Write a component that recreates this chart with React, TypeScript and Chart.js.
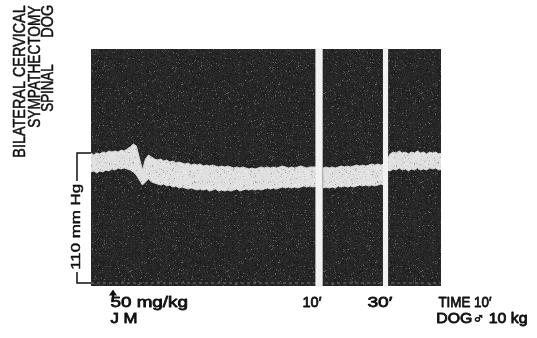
import { useEffect, useRef } from "react";
import { Chart, registerables } from "chart.js";

Chart.register(...registerables);

// Time axis: seconds from the injection; pressure axis: mm Hg.
const SAMPLE_STEP_S = 9;

// Record segment 1 (injection through 10 min)
const seg1Start = -66;
const seg1Systolic = [
  110.0, 108.3, 110.0, 109.2, 110.8, 110.0, 111.7, 110.8, 111.7, 110.8,
  112.5, 111.7, 113.4, 115.1, 117.6, 115.9, 105.8, 95.6, 104.9, 108.3,
  106.6, 104.9, 104.1, 104.9, 103.2, 104.1, 102.4, 103.2, 101.5, 102.4,
  101.5, 100.7, 101.5, 99.8, 100.7, 99.8, 100.7, 99.0, 99.8, 99.0,
  99.8, 99.0, 98.2, 99.0, 98.2, 99.0, 98.2, 97.3, 98.2, 97.3,
  98.2, 97.3, 96.5, 97.3, 96.5, 97.3, 98.2, 97.3, 98.2, 97.3,
  98.2, 97.3, 98.2, 99.0, 98.2, 97.3, 98.2, 97.3, 98.2, 99.0,
  98.2, 97.3, 98.2, 98.2, 98.2,
];
const seg1Diastolic = [
  93.9, 94.8, 93.1, 94.8, 93.9, 95.6, 94.8, 96.5, 95.6, 97.3,
  96.5, 97.3, 96.5, 95.6, 93.9, 91.4, 87.2, 82.9, 85.5, 88.0,
  85.5, 84.6, 83.8, 82.9, 83.8, 82.1, 82.9, 81.2, 82.1, 80.4,
  81.2, 80.4, 79.5, 80.4, 79.5, 78.7, 79.5, 78.7, 79.5, 77.8,
  78.7, 79.5, 77.8, 78.7, 77.8, 78.7, 77.8, 78.7, 79.5, 77.8,
  78.7, 79.5, 78.7, 79.5, 78.7, 79.5, 78.7, 79.5, 80.4, 79.5,
  80.4, 79.5, 80.4, 81.2, 80.4, 81.2, 80.4, 81.2, 80.4, 81.2,
  82.1, 81.2, 82.1, 81.2, 82.1,
];

// Record segment 2 (up to 30 min)
const seg2Start = 621;
const seg2Systolic = [
  97.3, 98.2, 97.3, 98.2, 97.3, 98.2, 99.0, 98.2, 99.0, 98.2,
  99.0, 99.8, 99.0, 99.8, 99.0, 99.8, 100.7, 99.8, 100.7, 99.8, 100.7,
];
const seg2Diastolic = [
  80.4, 81.2, 80.4, 81.2, 80.4, 82.1, 81.2, 82.1, 81.2, 82.1,
  81.2, 82.1, 82.9, 82.1, 82.9, 82.1, 82.9, 82.1, 82.9, 83.8, 82.9,
];

// Record segment 3 (after 30 min)
const seg3Start = 810;
const seg3Systolic = [
  104.1, 109.2, 110.8, 110.0, 111.7, 110.0, 110.8, 109.2, 110.8, 110.0,
  111.7, 110.0, 110.8, 109.2, 110.8, 110.0, 110.8, 109.2, 110.0,
];
const seg3Diastolic = [
  95.6, 94.8, 96.5, 95.6, 97.3, 95.6, 96.5, 94.8, 96.5, 95.6,
  97.3, 95.6, 96.5, 95.6, 97.3, 96.5, 97.3, 95.6, 96.5,
];

// Paper strips (seconds) and axis ranges
const stripStarts = [-65, 619, 813];
const stripEnds = [599, 798, 969.5];
const timeMin = -65;
const timeMax = 969.5;
const pressureMin = -2.5;
const pressureMax = 198;

const scaleBarMmHg = 110;
const injectionTime = 0;

const titleLines = ["BILATERAL CERVICAL", "SYMPATHECTOMY"];
const titleSpinal = "SPINAL";
const titleDog = "DOG";
const scaleBarLabel = "110 mm Hg";
const doseLabel = "50 mg/kg";
const drugLabel = "J M";
const timeMarks = ["10′", "30′"];
const timeScaleLabel = "TIME 10′";
const animalLabel = "DOG♂ 10 kg";

const FONT = '"Liberation Sans", "DejaVu Sans", sans-serif';
const INK = "#111111";

function grain(
  w: number,
  h: number,
  base: number,
  amp: number,
  speckProb: number,
  speck: number,
  seed: number
) {
  const c = document.createElement("canvas");
  c.width = w;
  c.height = h;
  const g = c.getContext("2d")!;
  const img = g.createImageData(w, h);
  let s = seed >>> 0;
  const next = () => {
    s = (Math.imul(s, 1664525) + 1013904223) >>> 0;
    return s / 4294967296;
  };
  for (let i = 0; i < w * h; i++) {
    let v = base + (next() - 0.5) * amp;
    if (next() < speckProb) v += speck * (0.4 + next());
    v = Math.max(0, Math.min(255, v));
    img.data[i * 4] = v;
    img.data[i * 4 + 1] = v;
    img.data[i * 4 + 2] = v;
    img.data[i * 4 + 3] = 255;
  }
  g.putImageData(img, 0, 0);
  return c;
}

function segmentPoints(start: number, values: number[]) {
  return values.map((y, i) => ({ x: start + i * SAMPLE_STEP_S, y }));
}

// Draws text so its ink runs from `from` to `to` along the reading direction.
function inkText(
  ctx: CanvasRenderingContext2D,
  text: string,
  size: number,
  baseline: number,
  from: number,
  to: number,
  vertical = false,
  weight = 0.5
) {
  ctx.save();
  ctx.font = `${size}px ${FONT}`;
  ctx.fillStyle = INK;
  ctx.strokeStyle = INK;
  ctx.lineJoin = "round";
  ctx.textAlign = "left";
  ctx.textBaseline = "alphabetic";
  const m = ctx.measureText(text);
  const inkW = m.actualBoundingBoxLeft + m.actualBoundingBoxRight;
  const len = Math.abs(to - from) - weight;
  if (vertical) {
    ctx.translate(baseline, from - weight / 2);
    ctx.rotate(-Math.PI / 2);
  } else {
    ctx.translate(from + weight / 2, baseline);
  }
  ctx.scale(len / inkW, 1);
  ctx.fillText(text, m.actualBoundingBoxLeft, 0);
  if (weight > 0) {
    ctx.lineWidth = weight;
    ctx.strokeText(text, m.actualBoundingBoxLeft, 0);
  }
  ctx.restore();
}

export default function App() {
  const ref = useRef<HTMLCanvasElement>(null);

  useEffect(() => {
    const canvas = ref.current!;
    const c2d = canvas.getContext("2d")!;
    const darkFill = c2d.createPattern(grain(97, 89, 38, 22, 0.05, 48, 7), "repeat")!;
    const traceFill = c2d.createPattern(grain(61, 53, 224, 18, 0.04, -45, 3), "repeat")!;

    const segments = [
      [seg1Start, seg1Systolic, seg1Diastolic],
      [seg2Start, seg2Systolic, seg2Diastolic],
      [seg3Start, seg3Systolic, seg3Diastolic],
    ] as [number, number[], number[]][];

    const datasets: any[] = [
      {
        label: "baseline",
        data: [
          { x: timeMin, y: 0 },
          { x: timeMax, y: 0 },
        ],
        borderColor: "rgba(175,175,175,0.55)",
        borderWidth: 1,
        borderDash: [3, 3],
        pointRadius: 0,
        fill: false,
      },
    ];
    segments.forEach(([start, sys, dia], k) => {
      datasets.push({
        label: `systolic ${k + 1}`,
        data: segmentPoints(start, sys),
        borderColor: "#d6d6d6",
        borderWidth: 1,
        backgroundColor: traceFill,
        fill: "+1",
        pointRadius: 0,
        tension: 0,
      });
      datasets.push({
        label: `diastolic ${k + 1}`,
        data: segmentPoints(start, dia),
        borderColor: "#cfcfcf",
        borderWidth: 1,
        fill: false,
        pointRadius: 0,
        tension: 0,
      });
    });

    const recordPaper = {
      id: "recordPaper",
      beforeDatasetsDraw(chart: any) {
        const { ctx, chartArea, scales } = chart;
        const x = scales.x;
        ctx.save();
        ctx.fillStyle = darkFill;
        stripStarts.forEach((s, i) => {
          const x0 = x.getPixelForValue(s);
          const x1 = x.getPixelForValue(stripEnds[i]);
          ctx.fillRect(x0, chartArea.top, x1 - x0, chartArea.bottom - chartArea.top);
        });
        ctx.restore();
      },
      afterDatasetsDraw(chart: any) {
        const { ctx, chartArea, scales } = chart;
        const x = scales.x;
        ctx.save();
        ctx.fillStyle = "#f1f1f1";
        for (let i = 0; i < stripStarts.length - 1; i++) {
          const x0 = x.getPixelForValue(stripEnds[i]);
          const x1 = x.getPixelForValue(stripStarts[i + 1]);
          ctx.fillRect(x0, chartArea.top - 1, x1 - x0, chartArea.bottom - chartArea.top + 2);
        }
        ctx.restore();
      },
      afterDraw(chart: any) {
        const { ctx, chartArea, scales } = chart;
        const x = scales.x;
        const y = scales.y;

        // Titles, reading upward
        inkText(ctx, titleLines[0], 16, 25, 157, 5, true);
        inkText(ctx, titleLines[1], 16, 40, 128, 5, true);
        inkText(ctx, titleSpinal, 16, 53, 112, 64, true);
        inkText(ctx, titleDog, 16, 53, 37, 5, true);

        // Pressure calibration bracket
        const yTop = y.getPixelForValue(scaleBarMmHg);
        const yBot = y.getPixelForValue(0);
        const bx = 77;
        ctx.save();
        ctx.strokeStyle = INK;
        ctx.lineWidth = 1.5;
        ctx.beginPath();
        ctx.moveTo(chartArea.left, yTop);
        ctx.lineTo(bx, yTop);
        ctx.lineTo(bx, 181);
        ctx.moveTo(bx, 272);
        ctx.lineTo(bx, yBot);
        ctx.lineTo(chartArea.left, yBot);
        ctx.stroke();
        ctx.restore();
        inkText(ctx, scaleBarLabel, 13, 80, 270, 184, true);

        // Injection arrow
        const ax = x.getPixelForValue(injectionTime);
        ctx.save();
        ctx.fillStyle = INK;
        ctx.strokeStyle = INK;
        ctx.beginPath();
        ctx.moveTo(ax, 289.5);
        ctx.lineTo(ax - 4, 295.5);
        ctx.lineTo(ax + 4, 295.5);
        ctx.closePath();
        ctx.fill();
        ctx.lineWidth = 2.2;
        ctx.beginPath();
        ctx.moveTo(ax, 294);
        ctx.lineTo(ax, 301);
        ctx.stroke();
        ctx.restore();

        inkText(ctx, doseLabel, 15, 307, 110, 188, false, 0.8);
        inkText(ctx, drugLabel, 14, 323, 110, 137, false, 0.8);
        inkText(ctx, timeMarks[0], 15, 307, 303, 322, false, 0.8);
        inkText(ctx, timeMarks[1], 15, 307, 367, 393, false, 0.8);
        inkText(ctx, timeScaleLabel, 15, 307, 438, 492, false, 0.8);
        inkText(ctx, animalLabel, 14, 323, 437, 527, false, 0.8);
      },
    };

    const chart = new Chart(canvas, {
      type: "line",
      data: { datasets },
      options: {
        animation: false,
        responsive: false,
        maintainAspectRatio: false,
        devicePixelRatio: 1,
        layout: { padding: { left: 91, right: 96, top: 49, bottom: 52 } },
        plugins: {
          legend: { display: false },
          title: { display: false },
          tooltip: { enabled: false },
        },
        scales: {
          x: { type: "linear", min: timeMin, max: timeMax, display: false },
          y: { type: "linear", min: pressureMin, max: pressureMax, display: false },
        },
      },
      plugins: [recordPaper],
    });

    return () => chart.destroy();
  }, []);

  return (
    <div
      style={{
        position: "fixed",
        left: 0,
        top: 0,
        width: 537,
        height: 338,
        background: "#ffffff",
      }}
    >
      <canvas ref={ref} width={537} height={338} style={{ display: "block", width: 537, height: 338 }} />
    </div>
  );
}
